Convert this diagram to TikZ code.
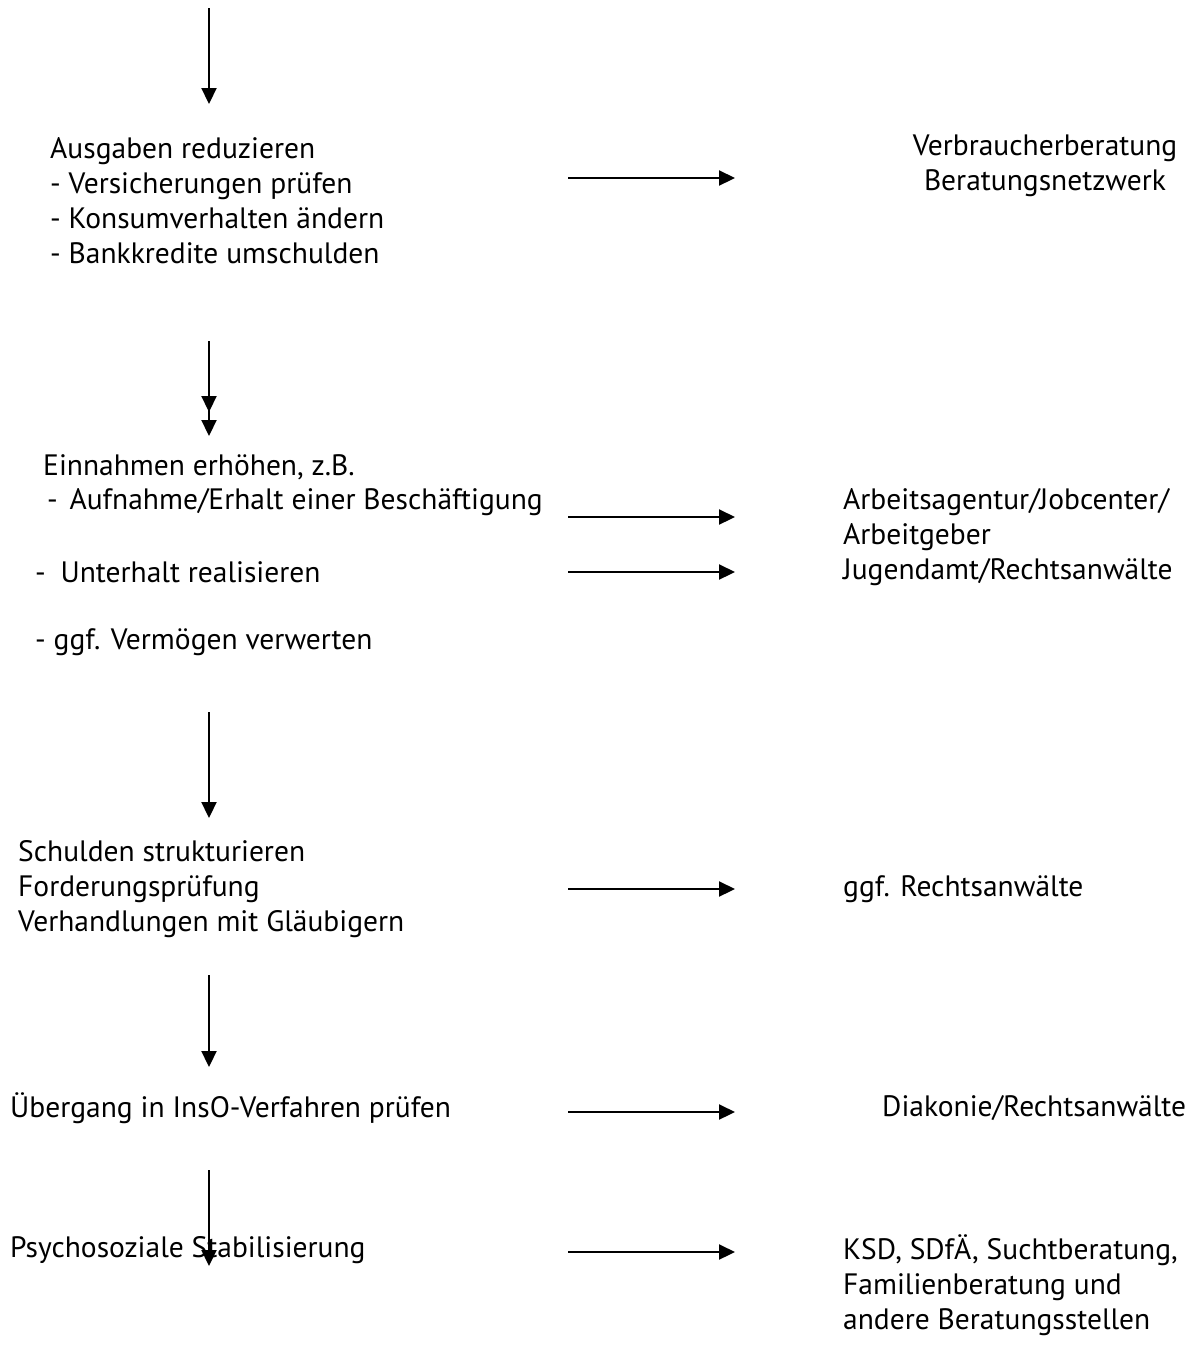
\documentclass[tikz,border=0pt]{standalone}
\usepackage{fontspec}
\setmainfont{PT Sans}
\usetikzlibrary{arrows.meta}
\begin{document}
\begin{tikzpicture}[x=1pt,y=-1pt,
  txt/.style={inner sep=0pt,anchor=west,font=\fontsize{29.5}{35}\selectfont,align=left},
  ctxt/.style={inner sep=0pt,font=\fontsize{29.5}{35}\selectfont,align=center},
  arr/.style={line width=2.2pt,-{Triangle[length=16pt,width=15pt]}}]
\useasboundingbox[fill=white] (0,0) rectangle (1192,1361);
% vertical arrow coordinates
\coordinate (v1a) at (209,8);   \coordinate (v1b) at (209,104);
\coordinate (v2a) at (209,341); \coordinate (v2b) at (209,412);
\coordinate (v2c) at (209,395); \coordinate (v2d) at (209,436);
\coordinate (v3a) at (209,712); \coordinate (v3b) at (209,818);
\coordinate (v4a) at (209,975); \coordinate (v4b) at (209,1067);
\coordinate (v5a) at (209,1170); \coordinate (v5b) at (209,1266);
% left texts
\node[txt] (aus) at (50,201) {Ausgaben reduzieren\\- Versicherungen prüfen\\- Konsumverhalten ändern\\- Bankkredite umschulden};
\node[txt] (ein) at (43,467) {Einnahmen erhöhen, z.B.};
\node[txt] (auf) at (47,502) {-\hspace{0.4em}Aufnahme/Erhalt einer Beschäftigung};
\node[txt] (unt) at (35,572) {-\hspace{0.5em}Unterhalt realisieren};
\node[txt] (ggf) at (35,642) {- ggf. Vermögen verwerten};
\node[txt] (sch) at (18,889) {Schulden strukturieren\\Forderungsprüfung\\Verhandlungen mit Gläubigern};
\node[txt] (ueb) at (10,1108) {Übergang in InsO-Verfahren prüfen};
\node[txt] (psy) at (10,1250) {Psychosoziale Stabilisierung};
% right texts
\node[ctxt] (ver) at (1045,166) {Verbraucherberatung\\Beratungsnetzwerk};
\node[txt] (arb) at (843,519.5) {Arbeitsagentur/Jobcenter/\\Arbeitgeber};
\node[txt] (jug) at (843,572) {Jugendamt/Rechtsanwälte};
\node[txt] (rec) at (843,889) {ggf. Rechtsanwälte};
\node[txt] (dia) at (882,1108) {Diakonie/Rechtsanwälte};
\node[txt] (ksd) at (843,1285) {KSD, SDfÄ, Suchtberatung,\\Familienberatung und\\andere Beratungsstellen};
% horizontal arrow coordinates
\coordinate (h1a) at (568,178);  \coordinate (h1b) at (735,178);
\coordinate (h2a) at (568,517);  \coordinate (h2b) at (735,517);
\coordinate (h3a) at (568,572);  \coordinate (h3b) at (735,572);
\coordinate (h4a) at (568,889);  \coordinate (h4b) at (735,889);
\coordinate (h5a) at (568,1112); \coordinate (h5b) at (735,1112);
\coordinate (h6a) at (568,1252); \coordinate (h6b) at (735,1252);
% arrows
\draw[arr] (v1a) -- (v1b);
\draw[arr] (v2a) -- (v2b);
\draw[arr] (v2c) -- (v2d);
\draw[arr] (v3a) -- (v3b);
\draw[arr] (v4a) -- (v4b);
\draw[arr] (v5a) -- (v5b);
\draw[arr] (h1a) -- (h1b);
\draw[arr] (h2a) -- (h2b);
\draw[arr] (h3a) -- (h3b);
\draw[arr] (h4a) -- (h4b);
\draw[arr] (h5a) -- (h5b);
\draw[arr] (h6a) -- (h6b);
\end{tikzpicture}
\end{document}
